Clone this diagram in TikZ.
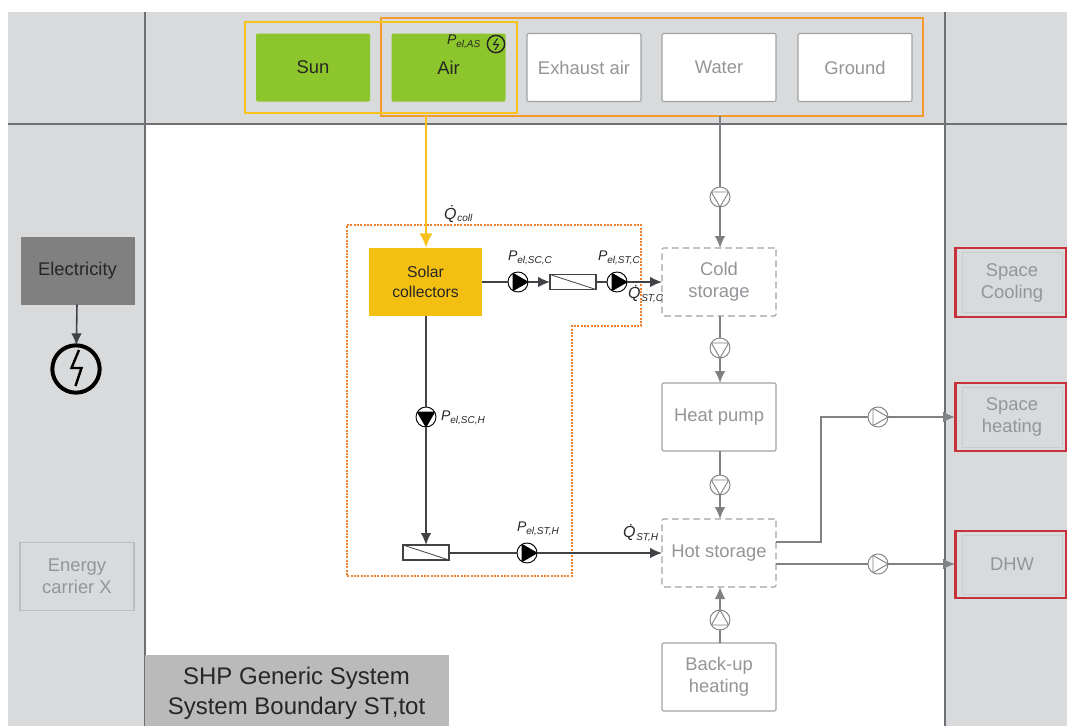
\documentclass[tikz,border=0pt]{standalone}
\usepackage{fontspec}
\setmainfont{Liberation Sans}
\usetikzlibrary{arrows.meta}
\definecolor{panel}{HTML}{D9DADB}
\definecolor{rulec}{HTML}{6E6F72}
\definecolor{greenb}{HTML}{8DC52C}
\definecolor{solar}{HTML}{F3C012}
\definecolor{yel}{HTML}{F8C21C}
\definecolor{ora}{HTML}{F39B2B}
\definecolor{dot}{HTML}{F07F2E}
\definecolor{redb}{HTML}{C8333B}
\definecolor{gtxt}{HTML}{939598}
\definecolor{gline}{HTML}{7F8184}
\definecolor{dline}{HTML}{404245}
\definecolor{bbord}{HTML}{A0A2A4}
\newcommand{\lab}[2]{\textit{#1}\raisebox{-0.35ex}{\fontsize{7.5pt}{8pt}\selectfont\textit{#2}}}
\newcommand{\qlab}[1]{{\fontsize{12pt}{12pt}\selectfont\textit{\.Q}}\raisebox{-0.35ex}{\fontsize{7.5pt}{8pt}\selectfont\textit{#1}}}
\tikzset{
  x=0.75pt,y=-0.75pt,
  every node/.style={inner sep=0pt,outer sep=0pt,align=center},
  boxsize/.style={minimum width=85.5pt,minimum height=51pt,font=\fontsize{13.8pt}{16.5pt}\selectfont},
  greenbox/.style={boxsize,rectangle,rounded corners=1pt,fill=greenb,text=black!85},
  whitebox/.style={boxsize,rectangle,rounded corners=1pt,fill=white,draw=bbord,line width=0.8pt,text=gtxt},
  dashbox/.style={whitebox,dashed,dash pattern=on 5pt off 3pt,text=gtxt},
  hxbox/.style={rectangle,draw=dline,fill=white,line width=0.8pt,minimum width=34.5pt,minimum height=11.25pt,
    path picture={\draw[dline,line width=0.6pt] (path picture bounding box.north west)--(path picture bounding box.south east);}},
  pumpsym/.style 2 args={circle,draw=#2,fill=white,line width=0.7pt,minimum size=15pt,
    path picture={\draw[#2,line width=0.6pt,fill=#2] ([shift={(#1:7.5pt)}]path picture bounding box.center)--([shift={(#1+120:7.5pt)}]path picture bounding box.center)--([shift={(#1+240:7.5pt)}]path picture bounding box.center)--cycle;}},
  gpumpsym/.style={circle,draw=gline,fill=white,line width=0.7pt,minimum size=15pt,
    path picture={\draw[gline,line width=0.7pt] ([shift={(#1:7.5pt)}]path picture bounding box.center)--([shift={(#1+120:7.5pt)}]path picture bounding box.center)--([shift={(#1+240:7.5pt)}]path picture bounding box.center)--cycle;}},
  darrow/.style={draw=dline,line width=1.2pt,-{Latex[length=9pt,width=8pt]}},
  dpipe/.style={draw=dline,line width=1.2pt},
  garrow/.style={draw=gline,line width=1.1pt,-{Latex[length=9pt,width=8pt]}},
  gpipe/.style={draw=gline,line width=1.1pt},
  lbl/.style={font=\fontsize{10.5pt}{12pt}\selectfont,text=black!85},
  redframe/.style={draw=redb,line width=1.8pt},
}
\begin{document}
\begin{tikzpicture}
\useasboundingbox (0,0) rectangle (1067,726);
% backgrounds
\fill[panel] (8,12) rectangle (1067,124);
\fill[panel] (8,124) rectangle (145,726);
\fill[panel] (945,124) rectangle (1067,726);
\draw[rulec,line width=1.1pt] (8,124) -- (1067,124);
\draw[rulec,line width=1.1pt] (145,12) -- (145,726);
\draw[rulec,line width=1.1pt] (945,12) -- (945,726);
% top row
\node[greenbox] (sun) at (313,67.5) {Sun};
\node[greenbox] (air) at (448.5,67.5) {Air};
\node[whitebox] (exhaust) at (584,67.5) {Exhaust air};
\node[whitebox] (water) at (719,67.5) {Water};
\node[whitebox] (ground) at (855,67.5) {Ground};
\draw[ora,line width=2pt] (381,18) rectangle (923,116);
\draw[yel,line width=2pt] (245,22) rectangle (517,113);
\coordinate (airout) at (426,116);
\coordinate (waterout) at (720,116);
\node[lbl,anchor=west] (pas) at (447,42) {\lab{P}{el,AS}};
\node[circle,draw=black!85,line width=1.1pt,minimum size=13pt] (assym) at (496,44) {};
\draw[black!85,line width=0.8pt] (497.5,38.5) -- (493.5,44.5) -- (498.5,44.5) -- (495,50);
% left column
\node[boxsize,rectangle,fill=black!50,text=black!85] (elec) at (77.5,270.5) {Electricity};
\node[circle,draw=black,line width=3pt,minimum size=35.5pt] (elecsym) at (76,369) {};
\draw[black,line width=1.8pt] (79,350) -- (71.5,368) -- (81.5,368) -- (75.5,386);
\draw[darrow] (elec) -- (elecsym);
\node[boxsize,rectangle,draw=bbord!70,line width=0.9pt,text=gtxt] (carrier) at (77,576.5) {Energy\\carrier X};
% right column
\draw[redframe] (955.5,248) rectangle (1066.5,317);
\draw[redframe] (955.5,383) rectangle (1066.5,451);
\draw[redframe] (955.5,531) rectangle (1066.5,598);
\node[boxsize,minimum width=75pt,minimum height=45pt,rectangle,draw=panel!93!black,line width=0.5pt,text=gtxt] (cool) at (1012,282.5) {Space\\Cooling};
\node[boxsize,minimum width=75pt,minimum height=45pt,rectangle,draw=panel!93!black,line width=0.5pt,text=gtxt] (heat) at (1012,417) {Space\\heating};
\node[boxsize,minimum width=75pt,minimum height=44pt,rectangle,draw=panel!93!black,line width=0.5pt,text=gtxt] (dhw) at (1012,564.5) {DHW};
% title
\node[rectangle,fill=black!27,minimum width=228pt,minimum height=53pt,text=black!85] (title) at (297,690.5) {};
\node[font=\fontsize{18pt}{22.5pt}\selectfont,text=black!85] (titletext) at (296.5,693) {SHP Generic System\\System Boundary ST,tot};
% centre column
\node[dashbox] (cold) at (719,282) {Cold\\storage};
\node[whitebox] (hp) at (719,417) {Heat pump};
\node[dashbox] (hot) at (719,553) {Hot storage};
\node[whitebox] (backup) at (719,677) {Back-up\\heating};
\node[gpumpsym=-90] (p1) at (720,197) {};
\node[gpumpsym=-90] (p2) at (720,348) {};
\node[gpumpsym=-90] (p3) at (720,485) {};
\node[gpumpsym=90] (p4) at (720,620) {};
\node[gpumpsym=0] (p5) at (878,417) {};
\node[gpumpsym=0] (p6) at (878,564) {};
\draw[gpipe] (waterout) -- (p1);
\draw[garrow] (p1) -- (720,248);
\draw[gpipe] (720,316) -- (p2);
\draw[garrow] (p2) -- (720,383);
\draw[gpipe] (720,451) -- (p3);
\draw[garrow] (p3) -- (720,519);
\draw[gpipe] (720,643) -- (p4);
\draw[garrow] (p4) -- (720,587);
\coordinate (hotA) at (776,542);
\coordinate (hotB) at (776,564);
\coordinate (bend) at (821,542);
\coordinate (bendb) at (821,417);
\coordinate (heatin) at (955,417);
\coordinate (dhwin) at (955,564);
\draw[gpipe] (hotA) -- (bend) -- (bendb) -- (p5);
\draw[garrow] (p5) -- (heatin);
\draw[gpipe] (hotB) -- (p6);
\draw[garrow] (p6) -- (dhwin);
% solar part
\draw[dot,line width=1.4pt,dash pattern=on 1.4pt off 1.1pt] (347,225) -- (641,225) -- (641,326) -- (572,326) -- (572,576) -- (347,576) -- cycle;
\node[rectangle,fill=solar,minimum width=85pt,minimum height=51pt,font=\fontsize{11.8pt}{14.5pt}\selectfont,text=black!85] (sc) at (425.5,282) {Solar\\collectors};
\draw[yel,line width=2.2pt,-{Latex[length=11pt,width=10pt]}] (airout) -- (sc.north -| airout);
\node[pumpsym={0}{black}] (p7) at (518,282) {};
\node[hxbox] (hx1) at (573,282) {};
\node[pumpsym={0}{black}] (p8) at (617,282) {};
\node[pumpsym={-90}{black}] (p9) at (426,417) {};
\node[hxbox] (hx2) at (426,552.5) {};
\node[pumpsym={0}{black}] (p10) at (527,553) {};
\coordinate (scbot) at (426,316);
\coordinate (coldin) at (662,282);
\coordinate (hotin) at (662,553);
\draw[dpipe] (sc.east |- p7) -- (p7);
\draw[darrow] (p7) -- (hx1);
\draw[dpipe] (hx1) -- (p8);
\draw[darrow] (p8) -- (coldin);
\draw[dpipe] (scbot) -- (p9);
\draw[darrow] (p9) -- (hx2);
\draw[dpipe] (hx2.east |- p10) -- (p10);
\draw[darrow] (p10) -- (hotin);
% labels
\node[lbl,anchor=west] (lcoll) at (444,214) {\qlab{coll}};
\node[lbl,anchor=west] (lscc) at (508,258) {\lab{P}{el,SC,C}};
\node[lbl,anchor=west] (lstc) at (598,258) {\lab{P}{el,ST,C}};
\node[lbl,anchor=west] (lqc) at (628,294) {\qlab{ST,C}};
\node[lbl,anchor=west] (lsch) at (441,418) {\lab{P}{el,SC,H}};
\node[lbl,anchor=west] (lsth) at (517,529) {\lab{P}{el,ST,H}};
\node[lbl,anchor=west] (lqh) at (623,533) {\qlab{ST,H}};
\end{tikzpicture}
\end{document}
